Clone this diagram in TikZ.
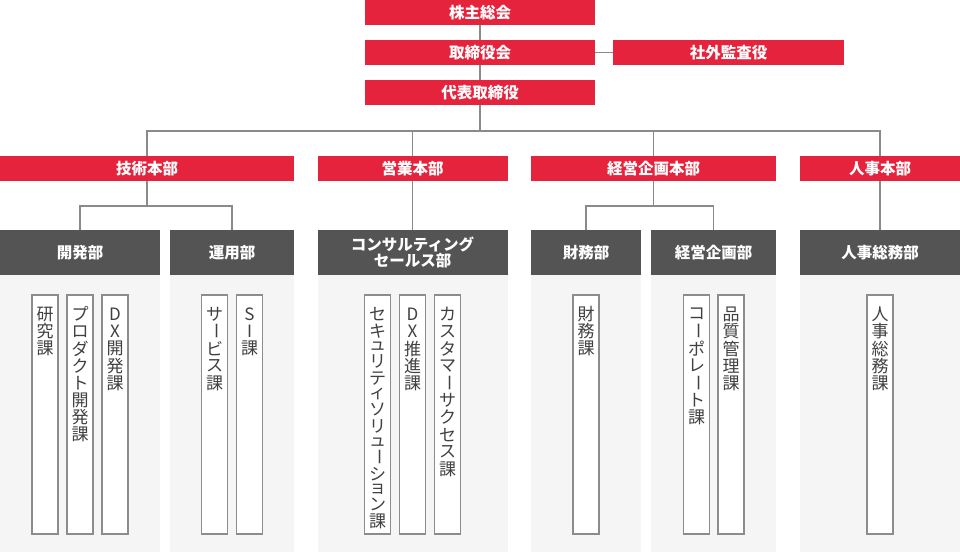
\documentclass[tikz,border=0pt]{standalone}
\usepackage{fontspec}
\usepackage{graphicx}
\setmainfont{Noto Sans CJK JP}
\definecolor{cred}{HTML}{E6233C}
\definecolor{cdark}{HTML}{545454}
\definecolor{cpanel}{HTML}{F5F5F5}
\definecolor{cconn}{HTML}{8A8A8A}
\definecolor{cedge}{HTML}{8C8C8C}
\definecolor{ctext}{HTML}{404040}
\newcommand\vF[1]{\hbox to 22pt{\hss\vbox to 17.2pt{\vss\hbox{#1}\vss}\hss}}
\newcommand\vS[1]{\hbox to 22pt{\hss\vbox to 13.2pt{\vss\hbox{#1}\vss}\hss}}
\newcommand\vL{\vF{\rotatebox{-90}{ー}}}
\newcommand\vcol[1]{\vbox{\offinterlineskip #1}}
\tikzset{
  redbox/.style={fill=cred, text=white, inner sep=0, minimum height=25pt,
    font=\fontsize{15.5}{18}\selectfont\bfseries},
  darkbox/.style={fill=cdark, text=white, inner sep=0, minimum height=45pt, align=center,
    font=\fontsize{15.5}{18}\selectfont\bfseries},
  panel/.style={fill=cpanel, inner sep=0, minimum height=277pt},
  secbox/.style={draw=cedge, fill=white, line width=1.2pt, inner sep=0,
    minimum width=26pt, minimum height=239pt},
  vtext/.style={text=ctext, inner sep=0, anchor=north, yshift=-11pt,
    font=\fontsize{17}{17}\selectfont},
  conn/.style={draw=cconn, line width=1.4pt}
}
\begin{document}
\begin{tikzpicture}[x=1pt,y=-1pt]
\useasboundingbox (0,0) rectangle (960,552);
% top
\node[redbox, minimum width=230pt] (kabu) at (480,12.5) {株主総会};
\node[redbox, minimum width=230pt] (tori) at (480,52.5) {取締役会};
\node[redbox, minimum width=231pt] (shagai) at (728.5,52.5) {社外監査役};
\node[redbox, minimum width=230pt] (daihyo) at (480,92.5) {代表取締役};
% divisions
\node[redbox, minimum width=294pt] (gijutsu) at (147,168.5) {技術本部};
\node[redbox, minimum width=190pt] (eigyo) at (412.5,168.5) {営業本部};
\node[redbox, minimum width=245pt] (keiei) at (653.5,168.5) {経営企画本部};
\node[redbox, minimum width=160pt] (jinji) at (880,168.5) {人事本部};
% panels
\node[panel, minimum width=160pt] (p1) at (80,413.5) {};
\node[panel, minimum width=124pt] (p2) at (232,413.5) {};
\node[panel, minimum width=190pt] (p3) at (412.5,413.5) {};
\node[panel, minimum width=110pt] (p4) at (586,413.5) {};
\node[panel, minimum width=125pt] (p5) at (713.5,413.5) {};
\node[panel, minimum width=160pt] (p6) at (880,413.5) {};
% departments
\node[darkbox, minimum width=160pt] (kaihatsu) at (80,252.5) {開発部};
\node[darkbox, minimum width=124pt] (unyo) at (232,252.5) {運用部};
\node[darkbox, minimum width=190pt] (consul) at (412.5,252.5) {コンサルティング\\[-2pt]セールス部};
\node[darkbox, minimum width=110pt] (zaimu) at (586,252.5) {財務部};
\node[darkbox, minimum width=125pt] (kikaku) at (713.5,252.5) {経営企画部};
\node[darkbox, minimum width=160pt] (soumu) at (880,252.5) {人事総務部};
% connectors
\coordinate (bus) at (0,131);
\coordinate (b1) at (0,206);
\draw[conn] (kabu.south) -- (tori.north);
\draw[conn] (tori.south) -- (daihyo.north);
\draw[conn] (tori.east) -- (shagai.west);
\draw[conn] (daihyo.south) -- (daihyo.south |- bus);
\draw[conn] (gijutsu.north) |- (jinji.north |- bus) -- (jinji.north);
\draw[conn] (eigyo.north) -- (eigyo.north |- bus);
\draw[conn] (keiei.north) -- (keiei.north |- bus);
\draw[conn] (gijutsu.south) -- (gijutsu.south |- b1);
\draw[conn] (kaihatsu.north) |- (unyo.north |- b1) -- (unyo.north);
\draw[conn] (eigyo.south) -- (consul.north);
\draw[conn] (keiei.south) -- (keiei.south |- b1);
\draw[conn] (zaimu.north) |- (kikaku.north |- b1) -- (kikaku.north);
\draw[conn] (jinji.south) -- (soumu.north);
% sections
\node[secbox] (s1) at (45,414.5) {};
\node[secbox] (s2) at (80,414.5) {};
\node[secbox] (s3) at (115,414.5) {};
\node[secbox] (s4) at (214.5,414.5) {};
\node[secbox] (s5) at (249.5,414.5) {};
\node[secbox] (s6) at (377.5,414.5) {};
\node[secbox] (s7) at (412.5,414.5) {};
\node[secbox] (s8) at (447.5,414.5) {};
\node[secbox] (s9) at (586,414.5) {};
\node[secbox] (s10) at (696.5,414.5) {};
\node[secbox] (s11) at (731,414.5) {};
\node[secbox] (s12) at (880,414.5) {};
\node[vtext] (t1) at (s1.north) {\vcol{\vF{研}\vF{究}\vF{課}}};
\node[vtext] (t2) at (s2.north) {\vcol{\vF{プ}\vF{ロ}\vF{ダ}\vF{ク}\vF{ト}\vF{開}\vF{発}\vF{課}}};
\node[vtext] (t3) at (s3.north) {\vcol{\vF{D}\vF{X}\vF{開}\vF{発}\vF{課}}};
\node[vtext] (t4) at (s4.north) {\vcol{\vF{サ}\vL\vF{ビ}\vF{ス}\vF{課}}};
\node[vtext] (t5) at (s5.north) {\vcol{\vF{S}\vF{I}\vF{課}}};
\node[vtext] (t6) at (s6.north) {\vcol{\vF{セ}\vF{キ}\vS{ュ}\vF{リ}\vF{テ}\vS{ィ}\vF{ソ}\vF{リ}\vS{ュ}\vL\vF{シ}\vS{ョ}\vF{ン}\vF{課}}};
\node[vtext] (t7) at (s7.north) {\vcol{\vF{D}\vF{X}\vF{推}\vF{進}\vF{課}}};
\node[vtext] (t8) at (s8.north) {\vcol{\vF{カ}\vF{ス}\vF{タ}\vF{マ}\vL\vF{サ}\vF{ク}\vF{セ}\vF{ス}\vF{課}}};
\node[vtext] (t9) at (s9.north) {\vcol{\vF{財}\vF{務}\vF{課}}};
\node[vtext] (t10) at (s10.north) {\vcol{\vF{コ}\vL\vF{ポ}\vF{レ}\vL\vF{ト}\vF{課}}};
\node[vtext] (t11) at (s11.north) {\vcol{\vF{品}\vF{質}\vF{管}\vF{理}\vF{課}}};
\node[vtext] (t12) at (s12.north) {\vcol{\vF{人}\vF{事}\vF{総}\vF{務}\vF{課}}};
\end{tikzpicture}
\end{document}
